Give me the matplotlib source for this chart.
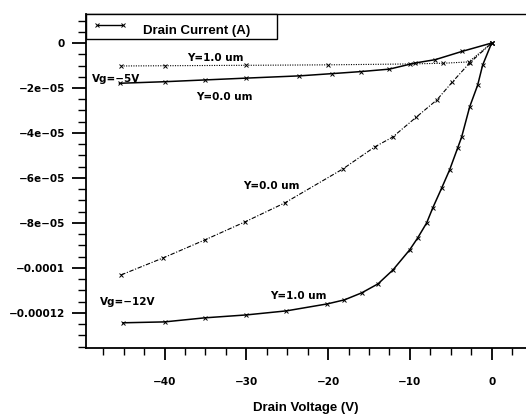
import matplotlib
matplotlib.use("Agg")
import matplotlib.pyplot as plt
from matplotlib.lines import Line2D
from matplotlib.ticker import MultipleLocator, FuncFormatter

plt.rcParams['font.family'] = ['DejaVu Sans']
plt.rcParams['font.weight'] = 'bold'

# Vg = -5V, Y = 1.0 um (dotted)
v_5_y1 = [-45.3, -40, -30, -20, -10, -6, -2.8, 0]
i_5_y1 = [-1.02e-5, -1.01e-5, -0.99e-5, -0.97e-5, -0.93e-5, -0.90e-5, -0.84e-5, 0]

# Vg = -5V, Y = 0.0 um (solid)
v_5_y0 = [-45.5, -40, -35, -30, -23.5, -19.5, -16, -12.5, -9.4, -6.9, -3.6, 0]
i_5_y0 = [-1.79e-5, -1.72e-5, -1.64e-5, -1.56e-5, -1.46e-5, -1.36e-5, -1.27e-5,
          -1.16e-5, -0.89e-5, -0.74e-5, -0.37e-5, 0]

# Vg = -12V, Y = 0.0 um (dash-dot)
v_12_y0 = [-45.3, -40.2, -35.1, -30.2, -25.3, -18.2, -14.3, -12.1, -9.2, -6.7, -4.8, -2.7, 0]
i_12_y0 = [-10.31e-5, -9.56e-5, -8.76e-5, -7.96e-5, -7.11e-5, -5.6e-5, -4.62e-5,
           -4.18e-5, -3.29e-5, -2.53e-5, -1.73e-5, -0.89e-5, 0]

# Vg = -12V, Y = 1.0 um (solid)
v_12_y1 = [-45.1, -40, -35.1, -30, -25.1, -20.1, -18, -15.9, -13.9, -12.07, -10.03,
           -9.05, -7.95, -7.2, -6.1, -5.14, -4.16, -3.67, -2.69, -1.71, -1.1, 0]
i_12_y1 = [-12.44e-5, -12.4e-5, -12.22e-5, -12.09e-5, -11.91e-5, -11.6e-5, -11.42e-5,
           -11.11e-5, -10.71e-5, -10.09e-5, -9.2e-5, -8.67e-5, -8.0e-5, -7.33e-5,
           -6.44e-5, -5.64e-5, -4.67e-5, -4.18e-5, -2.84e-5, -1.87e-5, -0.98e-5, 0]

fig = plt.figure(figsize=(5.26, 4.16), dpi=100)
ax = fig.add_axes([0.1635, 0.1635, 0.8365, 0.8028])

mk = dict(marker='x', markersize=3, markeredgewidth=0.7, color='black')
ax.plot(v_5_y1, i_5_y1, linestyle=(0, (1, 1.2)), linewidth=0.8, **mk)
ax.plot(v_5_y0, i_5_y0, linestyle='-', linewidth=1.1, **mk)
ax.plot(v_12_y0, i_12_y0, linestyle=(0, (4, 1.5, 1, 1.5)), linewidth=0.8, **mk)
ax.plot(v_12_y1, i_12_y1, linestyle='-', linewidth=1.1, **mk)

ax.set_xlim(-49.6, 4.2)
ax.set_ylim(-1.356e-4, 1.29e-5)


def fmt(v, p):
    s = '%g' % (round(v, 10) + 0.0)
    return s.replace('-', '\u2212')


ax.xaxis.set_major_locator(MultipleLocator(10))
ax.xaxis.set_minor_locator(MultipleLocator(2.5))
ax.yaxis.set_major_locator(MultipleLocator(2e-5))
ax.yaxis.set_minor_locator(MultipleLocator(5e-6))
ax.yaxis.set_major_formatter(FuncFormatter(fmt))
ax.xaxis.set_major_formatter(FuncFormatter(fmt))

ax.tick_params(axis='y', which='major', direction='out', length=10, width=1.3,
               labelsize=7.5, pad=5)
ax.tick_params(axis='y', which='minor', direction='out', length=6, width=1)
ax.tick_params(axis='x', which='major', direction='out', length=8.6, width=1.3,
               labelsize=7.5, pad=12)
ax.tick_params(axis='x', which='minor', direction='out', length=5, width=1)
ax.spines['right'].set_visible(False)
ax.spines['left'].set_linewidth(1.3)
ax.spines['bottom'].set_linewidth(1.3)
ax.spines['top'].set_linewidth(1.0)

for lbl in ax.get_xticklabels() + ax.get_yticklabels():
    lbl.set_fontweight('bold')

ax.set_xlabel('Drain Voltage (V)', fontsize=9.5, fontweight='bold', labelpad=11,
              family='Liberation Sans')

lab = dict(fontsize=7.5, fontweight='bold', va='center')
ax.text(-33.8, -0.67e-5, 'Y=1.0 um', ha='center', **lab)
ax.text(-48.9, -1.6e-5, 'Vg=\u22125V', ha='left', **lab)
ax.text(-32.7, -2.4e-5, 'Y=0.0 um', ha='center', **lab)
ax.text(-26.9, -6.36e-5, 'Y=0.0 um', ha='center', **lab)
ax.text(-47.9, -11.51e-5, 'Vg=\u221212V', ha='left', **lab)
ax.text(-23.6, -11.24e-5, 'Y=1.0 um', ha='center', **lab)

handle = Line2D([], [], color='black', linewidth=1, marker='x', markersize=3,
                markeredgewidth=0.7)
leg = ax.legend([handle], ['Drain Current (A)'], loc='upper left',
                bbox_to_anchor=(0, 1, 191 / 440, 0), mode='expand', borderaxespad=0,
                fancybox=False, framealpha=1, edgecolor='black', numpoints=2,
                prop={'size': 9.5, 'weight': 'bold', 'family': 'Liberation Sans'},
                handlelength=2.6, borderpad=0.5, handletextpad=1.2)
leg.get_frame().set_linewidth(1.0)
for t in leg.get_texts():
    t.set_position((0, -4))

fig.savefig('out.png', dpi=100)
